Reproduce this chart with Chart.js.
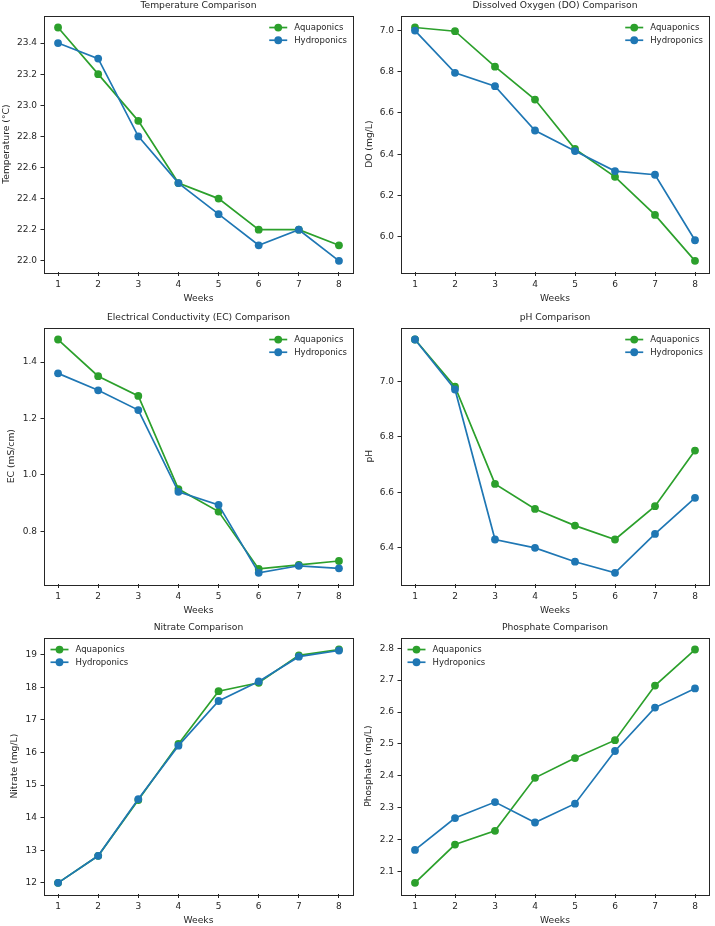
<!DOCTYPE html>
<html>
<head>
<meta charset="UTF-8">
<script src="https://cdn.jsdelivr.net/npm/chart.js"></script>
<title>Water quality comparison</title>
<style>
  body { margin: 0; background: #fff; }
  .wrap { position: relative; width: 715px; height: 926px; overflow: hidden; }
  .wrap canvas { position: absolute; }
</style>
</head>
<body>
<div class="wrap">
  <canvas id="cTemp" width="357" height="304" style="left:0;top:0"></canvas>
  <canvas id="cDo" width="358" height="304" style="left:357px;top:0"></canvas>
  <canvas id="cEc" width="357" height="304" style="left:0;top:312px"></canvas>
  <canvas id="cPh" width="358" height="304" style="left:357px;top:312px"></canvas>
  <canvas id="cNitrate" width="357" height="304" style="left:0;top:622px"></canvas>
  <canvas id="cPhos" width="358" height="304" style="left:357px;top:622px"></canvas>
</div>
<script>
// data
const weeks = [1, 2, 3, 4, 5, 6, 7, 8];

const tempAqua  = [23.5, 23.2, 22.9, 22.5, 22.4, 22.2, 22.2, 22.1];
const tempHydro = [23.4, 23.3, 22.8, 22.5, 22.3, 22.1, 22.2, 22.0];
const tempTicks = [22.0, 22.2, 22.4, 22.6, 22.8, 23.0, 23.2, 23.4];
const tempLabels = ['22.0', '22.2', '22.4', '22.6', '22.8', '23.0', '23.2', '23.4'];

const doAqua  = [7.015, 6.997, 6.825, 6.665, 6.425, 6.29, 6.105, 5.882];
const doHydro = [7.0, 6.795, 6.73, 6.515, 6.415, 6.318, 6.3, 5.982];
const doTicks = [6.0, 6.2, 6.4, 6.6, 6.8, 7.0];
const doLabels = ['6.0', '6.2', '6.4', '6.6', '6.8', '7.0'];

const ecAqua  = [1.48, 1.35, 1.28, 0.95, 0.87, 0.667, 0.681, 0.695];
const ecHydro = [1.36, 1.30, 1.23, 0.94, 0.894, 0.653, 0.678, 0.669];
const ecTicks = [0.8, 1.0, 1.2, 1.4];
const ecLabels = ['0.8', '1.0', '1.2', '1.4'];

const phAqua  = [7.15, 6.98, 6.63, 6.54, 6.48, 6.43, 6.55, 6.75];
const phHydro = [7.15, 6.97, 6.43, 6.40, 6.35, 6.31, 6.45, 6.58];
const phTicks = [6.4, 6.6, 6.8, 7.0];
const phLabels = ['6.4', '6.6', '6.8', '7.0'];

const nitrateAqua  = [12.0, 12.83, 14.54, 16.26, 17.88, 18.14, 18.98, 19.16];
const nitrateHydro = [12.0, 12.83, 14.57, 16.21, 17.58, 18.18, 18.94, 19.13];
const nitrateTicks = [12, 13, 14, 15, 16, 17, 18, 19];
const nitrateLabels = ['12', '13', '14', '15', '16', '17', '18', '19'];

const phosAqua  = [2.065, 2.185, 2.228, 2.394, 2.456, 2.512, 2.683, 2.796];
const phosHydro = [2.168, 2.268, 2.318, 2.254, 2.313, 2.478, 2.614, 2.674];
const phosTicks = [2.1, 2.2, 2.3, 2.4, 2.5, 2.6, 2.7, 2.8];
const phosLabels = ['2.1', '2.2', '2.3', '2.4', '2.5', '2.6', '2.7', '2.8'];

const GREEN = '#2ca02c';
const BLUE = '#1f77b4';
const INK = '#262626';
const FAMILY = '"DejaVu Sans", sans-serif';
const LINE_W = 1.7;
const DOT_R = 3.9;

// box around the axes, like matplotlib spines
const framePlugin = {
  id: 'frame',
  afterDraw(chart) {
    const a = chart.chartArea, ctx = chart.ctx;
    ctx.save();
    ctx.strokeStyle = INK;
    ctx.lineWidth = 1;
    ctx.strokeRect(Math.round(a.left) + 0.5, Math.round(a.top) + 0.5,
      Math.round(a.right - a.left), Math.round(a.bottom - a.top));
    ctx.restore();
  }
};

// legend inside the axes, line + marker handle
const inLegend = {
  id: 'inLegend',
  afterDraw(chart, args, opts) {
    const a = chart.chartArea, ctx = chart.ctx;
    const sets = chart.data.datasets;
    ctx.save();
    ctx.font = '8.5px ' + FAMILY;
    const tw = Math.max(...sets.map(d => ctx.measureText(d.label).width));
    const x0 = opts.side === 'right' ? a.right - 6 - tw - 25 : a.left + 6.5;
    sets.forEach((d, i) => {
      const y = a.top + 11.7 + i * 12.7;
      ctx.strokeStyle = d.borderColor;
      ctx.lineWidth = LINE_W;
      ctx.beginPath();
      ctx.moveTo(x0, y);
      ctx.lineTo(x0 + 18, y);
      ctx.stroke();
      ctx.fillStyle = d.borderColor;
      ctx.beginPath();
      ctx.arc(x0 + 9, y, DOT_R, 0, Math.PI * 2);
      ctx.fill();
      ctx.fillStyle = INK;
      ctx.textBaseline = 'middle';
      ctx.textAlign = 'left';
      ctx.fillText(d.label, x0 + 25, y + 0.5);
    });
    ctx.restore();
  }
};

function pts(vals) {
  return vals.map((v, i) => ({ x: weeks[i], y: v }));
}

function makeChart(id, title, yTitle, aqua, hydro, yTicks, yLabels, side, yTitlePad, padRight) {
  const all = aqua.concat(hydro);
  const lo = Math.min(...all), hi = Math.max(...all);
  const m = (hi - lo) * 0.05;
  const line = (label, vals, color, order) => ({
    label: label,
    data: pts(vals),
    borderColor: color,
    backgroundColor: color,
    pointBackgroundColor: color,
    pointBorderWidth: 0,
    pointRadius: DOT_R,
    borderWidth: LINE_W,
    tension: 0,
    order: order
  });
  const font = { family: FAMILY, size: 9 };
  return new Chart(document.getElementById(id), {
    type: 'line',
    data: {
      datasets: [
        line('Aquaponics', aqua, GREEN, 1),
        line('Hydroponics', hydro, BLUE, 0)
      ]
    },
    options: {
      responsive: false,
      animation: false,
      events: [],
      layout: { padding: { left: 0, top: 0, right: padRight, bottom: 0 } },
      plugins: {
        legend: { display: false },
        tooltip: { enabled: false },
        title: {
          display: true,
          text: title,
          color: INK,
          fullSize: false,
          font: { family: FAMILY, size: 9.2, weight: 'normal' },
          padding: { top: 0, bottom: 4.8 }
        },
        inLegend: { side: side }
      },
      scales: {
        x: {
          type: 'linear',
          min: 0.65,
          max: 8.35,
          afterBuildTicks: s => { s.ticks = weeks.map(v => ({ value: v })); },
          afterFit: s => { s.height = 31.5; },
          grid: { drawOnChartArea: false, drawTicks: true, tickLength: 3.5, color: INK, lineWidth: 1 },
          border: { display: false },
          ticks: { color: INK, font: font, padding: 3, maxRotation: 0, autoSkip: false,
                   callback: (v, i) => String(weeks[i]) },
          title: { display: true, text: 'Weeks', color: INK,
                   font: { family: FAMILY, size: 9.2 }, padding: { top: 0, bottom: 0 } }
        },
        y: {
          min: lo - m,
          max: hi + m,
          afterBuildTicks: s => { s.ticks = yTicks.map(v => ({ value: v })); },
          afterFit: s => { s.width = 44; },
          grid: { drawOnChartArea: false, drawTicks: true, tickLength: 3.5, color: INK, lineWidth: 1 },
          border: { display: false },
          ticks: { color: INK, font: font, padding: 3.5, autoSkip: false,
                   callback: (v, i) => yLabels[i] },
          title: { display: true, text: yTitle, color: INK,
                   font: { family: FAMILY, size: 9.2 }, padding: { top: yTitlePad, bottom: 0 } }
        }
      }
    },
    plugins: [framePlugin, inLegend]
  });
}

makeChart('cTemp', 'Temperature Comparison', 'Temperature (°C)', tempAqua, tempHydro,
  tempTicks, tempLabels, 'right', 0.8, 3);
makeChart('cDo', 'Dissolved Oxygen (DO) Comparison', 'DO (mg/L)', doAqua, doHydro,
  doTicks, doLabels, 'right', 7, 6);
makeChart('cEc', 'Electrical Conductivity (EC) Comparison', 'EC (mS/cm)', ecAqua, ecHydro,
  ecTicks, ecLabels, 'right', 6.2, 3);
makeChart('cPh', 'pH Comparison', 'pH', phAqua, phHydro,
  phTicks, phLabels, 'right', 7.5, 6);
makeChart('cNitrate', 'Nitrate Comparison', 'Nitrate (mg/L)', nitrateAqua, nitrateHydro,
  nitrateTicks, nitrateLabels, 'left', 9.5, 3);
makeChart('cPhos', 'Phosphate Comparison', 'Phosphate (mg/L)', phosAqua, phosHydro,
  phosTicks, phosLabels, 'left', 5.8, 6);
</script>
</body>
</html>
